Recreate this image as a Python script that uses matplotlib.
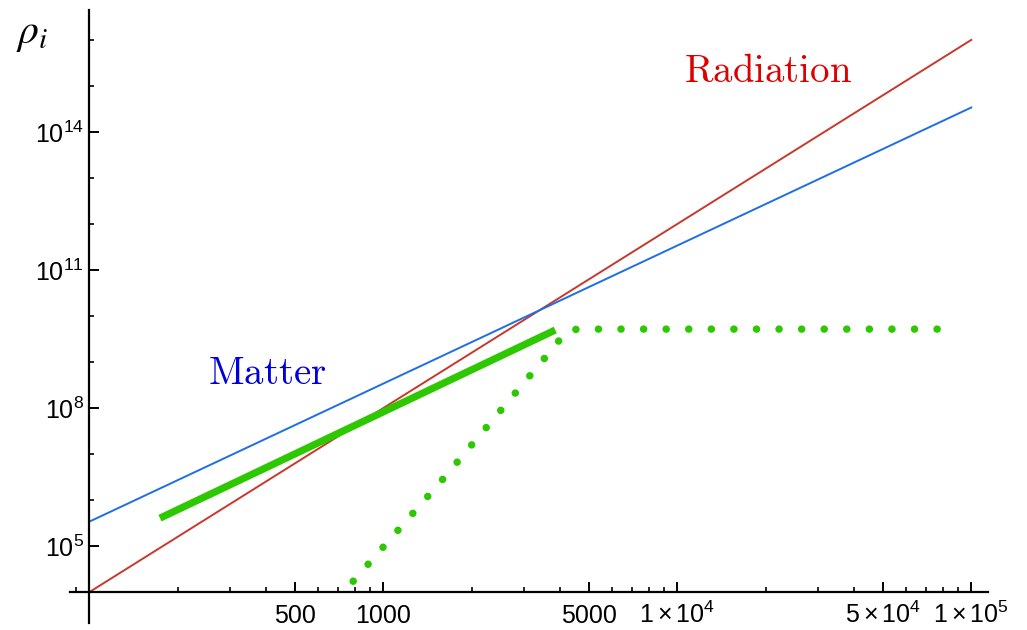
import matplotlib
matplotlib.use("Agg")
import matplotlib.pyplot as plt
import numpy as np
from matplotlib.ticker import FixedLocator, FixedFormatter

plt.rcParams["font.family"] = ["Liberation Sans", "DejaVu Sans"]
plt.rcParams["mathtext.fontset"] = "custom"
plt.rcParams["mathtext.rm"] = "Liberation Sans"
plt.rcParams["mathtext.it"] = "Liberation Sans:italic"

# data
z_range = [100, 1e5]
rad_vals = [1e4, 1e16]          # ~ z^4
mat_vals = [3.4e5, 3.4e14]      # ~ z^3
thick_x = [174, 3846]
thick_y = [4.06e5, 4.97e9]
dot_x = [790, 1574, 2793, 3908, 4150, 4575, 80000]
dot_y = [1.73e4, 2.59e6, 2.01e8, 2.59e9, 4.6e9, 5.2e9, 5.2e9]

x_major = [500, 1000, 5000, 1e4, 5e4, 1e5]
x_major_labels = ["500", "1000", "5000", r"$1\times10^{4}$", r"$5\times10^{4}$", r"$1\times10^{5}$"]
x_minor = [90, 200, 300, 400, 600, 700, 800, 900, 2000, 3000, 4000, 6000, 7000, 8000, 9000,
           2e4, 3e4, 4e4, 6e4, 7e4, 8e4, 9e4]
y_major = [1e5, 1e8, 1e11, 1e14]
y_major_labels = [r"$10^{5}$", r"$10^{8}$", r"$10^{11}$", r"$10^{14}$"]
y_minor = [1e6, 1e7, 1e9, 1e10, 1e12, 1e13, 1e15, 1e16]

fig = plt.figure(figsize=(10.27, 6.30), dpi=100)
ax = fig.add_axes([70 / 1027, 1 - 623 / 630, 918 / 1027, 613 / 630])
ax.set_xscale("log")
ax.set_yscale("log")
ax.set_xlim(86, 1.14e5)
ax.set_ylim(10 ** 3.33, 10 ** 16.65)

ax.plot(z_range, rad_vals, color="#c8382c", lw=1.4)
ax.plot(z_range, mat_vals, color="#1e6ee6", lw=1.4)
ax.plot(thick_x, thick_y, color="#2ec800", lw=5.2, solid_capstyle="butt")
ax.plot(dot_x, dot_y, color="#2ec800", lw=5.4, linestyle=(0, (0.01, 3.0)),
        dash_capstyle="round")

ax.spines["right"].set_visible(False)
ax.spines["top"].set_visible(False)
ax.spines["left"].set_position(("data", 100))
ax.spines["bottom"].set_position(("data", 1e4))
ax.spines["left"].set_linewidth(1.6)
ax.spines["bottom"].set_linewidth(1.6)

ax.xaxis.set_major_locator(FixedLocator(x_major))
ax.xaxis.set_major_formatter(FixedFormatter(x_major_labels))
ax.xaxis.set_minor_locator(FixedLocator(x_minor))
ax.xaxis.set_minor_formatter(FixedFormatter([""] * len(x_minor)))
ax.yaxis.set_major_locator(FixedLocator(y_major))
ax.yaxis.set_major_formatter(FixedFormatter(y_major_labels))
ax.yaxis.set_minor_locator(FixedLocator(y_minor))
ax.yaxis.set_minor_formatter(FixedFormatter([""] * len(y_minor)))

ax.tick_params(which="major", direction="in", length=7, width=1.4, labelsize=18)
ax.tick_params(which="minor", direction="in", length=3.5, width=1.2)
ax.tick_params(axis="x", which="major", pad=22)
ax.tick_params(axis="y", which="major", pad=4)
# line the x labels up on one baseline, like the reference
for lbl in ax.get_xticklabels():
    lbl.set_verticalalignment("baseline")

fig.text(16 / 1027, 1 - 14 / 630, r"$\rho_i$", fontsize=30,
         math_fontfamily="stix", ha="left", va="top")

fig.text(768 / 1027, 1 - 72 / 630, r"$\mathrm{Radiation}$", color="#dd0000", fontsize=28,
         math_fontfamily="cm", ha="center", va="center")
fig.text(267 / 1027, 1 - 374 / 630, r"$\mathrm{Matter}$", color="#0000dd", fontsize=28,
         math_fontfamily="cm", ha="center", va="center")

fig.savefig("out.png", dpi=100)
